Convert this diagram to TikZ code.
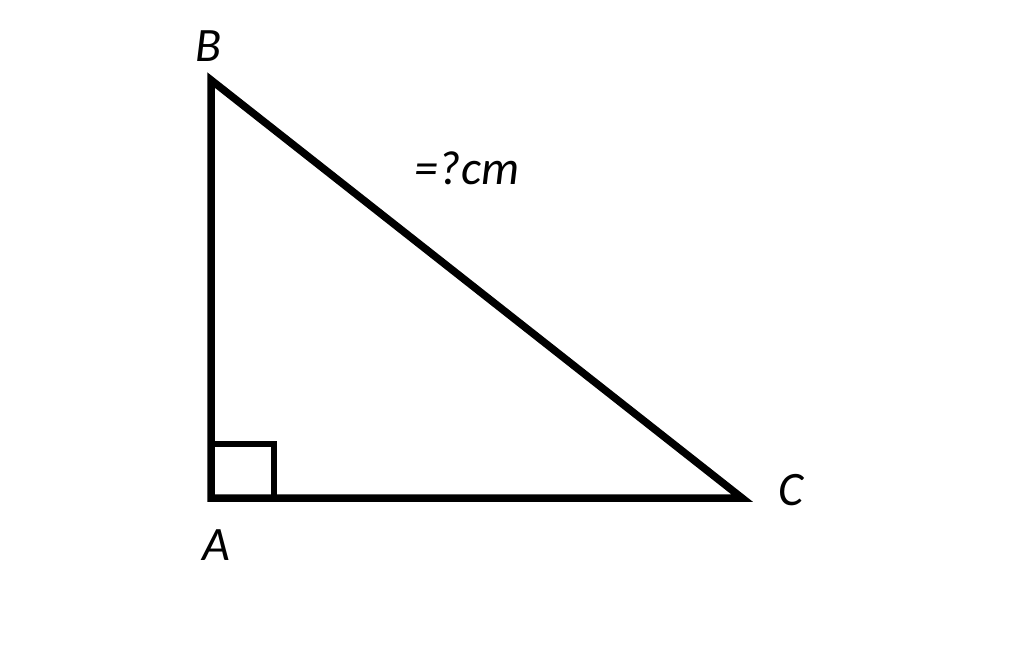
\documentclass[tikz,border=0pt]{standalone}
\usepackage{fontspec}
\setmainfont{Carlito}
\begin{document}
\begin{tikzpicture}[x=1pt,y=-1pt,
  edge/.style={line width=7.5pt,line join=miter,black},
  lbl/.style={font=\fontsize{48}{56}\selectfont\itshape,inner sep=0pt}]
\useasboundingbox (0,0) rectangle (1024,645);
\coordinate (A) at (211,498);
\coordinate (B) at (211,80);
\coordinate (C) at (742,498);
\coordinate (S1) at (211,444);
\coordinate (S2) at (274,444);
\coordinate (S3) at (274,498);
\draw[edge] (A) -- (B) -- (C) -- cycle;
\draw[edge,line width=6.5pt] (S1) -- (S2) -- (S3);
\node[lbl] (lB) at (209,46) {B};
\node[lbl] (lA) at (216,545) {A};
\node[lbl] (lC) at (791,490) {C};
\node[lbl] (lH) at (467,168) {=?cm};
\end{tikzpicture}
\end{document}
